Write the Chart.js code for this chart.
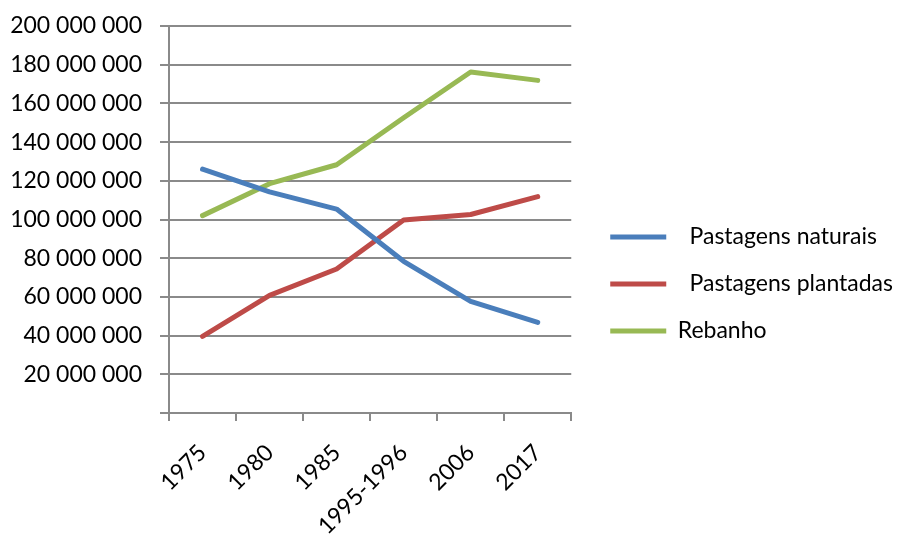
<!DOCTYPE html>
<html>
<head>
<meta charset="utf-8">
<script src="https://cdn.jsdelivr.net/npm/chart.js@4.4.1/dist/chart.umd.min.js"></script>
<style>
  html, body { margin: 0; padding: 0; background: #ffffff; }
  #wrap { width: 911px; height: 534px; position: relative; }
</style>
</head>
<body>
<div id="wrap"><canvas id="chart"></canvas></div>
<script>
// Categories (census years)
const years = ["1975", "1980", "1985", "1995-1996", "2006", "2017"];

// Series values
const pastagensNaturais = [126000000, 114300000, 105400000, 78400000, 57700000, 46800000];
const pastagensPlantadas = [39600000, 60800000, 74400000, 99700000, 102600000, 111800000];
const rebanho = [102000000, 118500000, 128300000, 152600000, 176200000, 171900000];

// Series names as shown in the legend
const seriesNames = ["  Pastagens naturais", "  Pastagens plantadas", "Rebanho"];

// Y-axis ticks
const yMin = 0;
const yMax = 200000000;
const yStep = 20000000;

const FONT = "Lato, 'Open Sans', sans-serif";
const GRID = "#8a8a8a";

function fmt(v) {
  if (v === 0) return "";
  return String(v).replace(/\B(?=(\d{3})+(?!\d))/g, " ");
}

function lineSet(label, data, color) {
  return {
    label: label,
    data: data,
    borderColor: color,
    backgroundColor: color,
    borderWidth: 5,
    borderCapStyle: "round",
    borderJoinStyle: "round",
    pointRadius: 0,
    pointHoverRadius: 0,
    tension: 0,
    fill: false
  };
}

new Chart(document.getElementById("chart"), {
  type: "line",
  data: {
    labels: years,
    datasets: [
      lineSet(seriesNames[0], pastagensNaturais, "#4a7ebb"),
      lineSet(seriesNames[1], pastagensPlantadas, "#be4b48"),
      lineSet(seriesNames[2], rebanho, "#98b954")
    ]
  },
  options: {
    responsive: true,
    maintainAspectRatio: false,
    animation: false,
    layout: { padding: { top: 26, right: 8, bottom: 0, left: 0 } },
    plugins: {
      tooltip: { enabled: false },
      legend: {
        position: "right",
        align: "center",
        maxWidth: 330,
        title: { display: true, text: "", font: { size: 8, lineHeight: 1 }, padding: 0 },
        labels: {
          color: "#000000",
          font: { family: FONT, size: 23 },
          boxWidth: 56,
          boxHeight: 5,
          padding: 24,
          useBorderRadius: true,
          borderRadius: 2.5,
          generateLabels: function (chart) {
            return chart.data.datasets.map(function (ds, i) {
              return {
                text: ds.label,
                fillStyle: ds.borderColor,
                strokeStyle: ds.borderColor,
                lineWidth: 0,
                hidden: false,
                datasetIndex: i,
                fontColor: "#000000"
              };
            });
          }
        }
      }
    },
    scales: {
      x: {
        offset: true,
        afterFit: function (s) { s.height = 121; },
        grid: {
          offset: true,
          drawOnChartArea: false,
          drawTicks: true,
          tickLength: 8,
          color: GRID,
          lineWidth: 2
        },
        border: { display: true, color: GRID, width: 2 },
        ticks: {
          color: "#000000",
          font: { family: FONT, size: 23 },
          maxRotation: 45,
          minRotation: 45,
          padding: 18,
          autoSkip: false
        }
      },
      y: {
        min: yMin,
        max: yMax,
        afterFit: function (s) { s.width = 169; s.paddingTop = 0; s.paddingBottom = 0; },
        grid: {
          color: GRID,
          lineWidth: 2,
          drawTicks: true,
          tickLength: 9
        },
        border: { display: true, color: GRID, width: 2 },
        ticks: {
          stepSize: yStep,
          color: "#000000",
          font: { family: FONT, size: 23 },
          padding: 18,
          callback: function (v) { return fmt(v); }
        }
      },
      // empty strip between the plot and the legend
      gap: {
        type: "linear",
        position: "right",
        display: true,
        afterFit: function (s) { s.width = 15; s.paddingTop = 0; s.paddingBottom = 0; },
        grid: { display: false },
        border: { display: false },
        ticks: { display: false }
      }
    }
  }
});
</script>
</body>
</html>
